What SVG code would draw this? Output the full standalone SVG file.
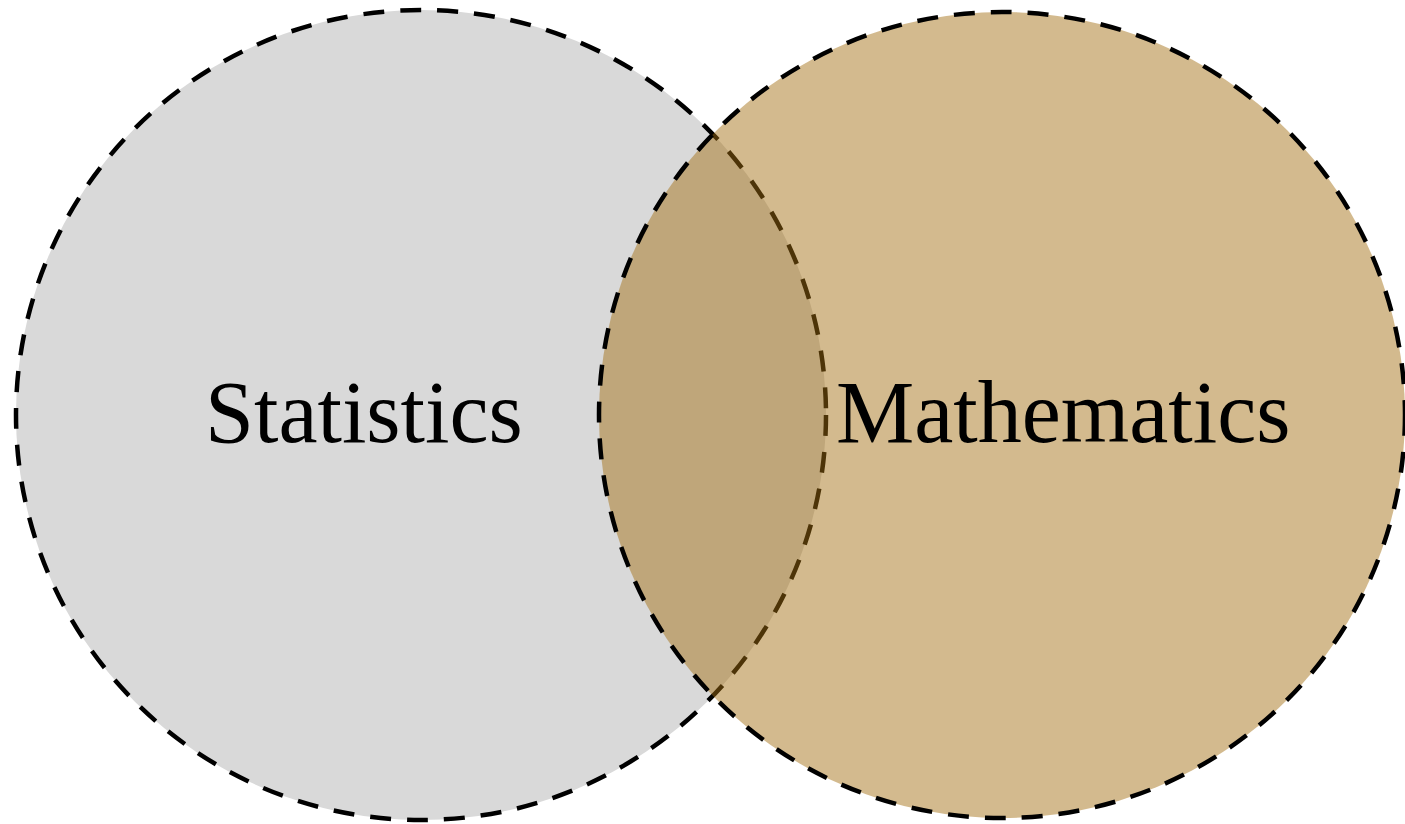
<svg xmlns="http://www.w3.org/2000/svg" width="1405" height="824" viewBox="0 0 1405 824">
<style>
.ring{stroke:#000;stroke-width:4.5;stroke-dasharray:21 16}
.lbl{font-family:"Liberation Serif","Times New Roman",serif;font-size:88px;fill:#000}
</style>
<rect width="1405" height="824" fill="#fff"/>
<g id="statistics">
<circle class="ring" cx="421" cy="415" r="405" fill="#D9D9D9"/>
</g>
<g id="mathematics">
<circle class="ring" cx="1002" cy="415" r="403" fill="rgb(162,109,17)" fill-opacity="0.474"/>
</g>
<g id="labels">
<text class="lbl" x="205" y="442">Statistics</text>
<text class="lbl" x="836" y="442">Mathematics</text>
</g>
</svg>
